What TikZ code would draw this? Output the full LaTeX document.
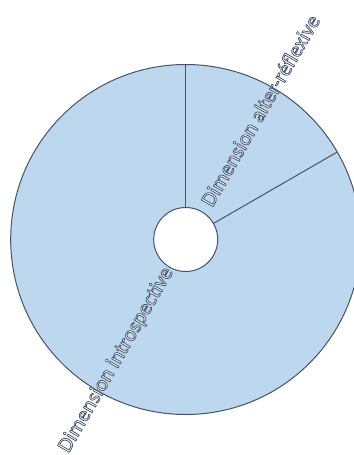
\documentclass[tikz,border=0pt]{standalone}
\usepackage{fontspec}
\setmainfont{Carlito}
\definecolor{discbleu}{HTML}{BDD7EE}
\definecolor{traitgris}{HTML}{44546A}
% texte blanc cerné (mode de rendu 2 : remplir et tracer)
\newcommand\cerne[1]{\special{pdf:code q 2 Tr 0.55 w 0.267 0.329 0.416 RG}#1\special{pdf:code Q}}
\begin{document}
\begin{tikzpicture}[x=0.75pt, y=0.75pt, line cap=round, line join=round,
    dimtext/.style={text=white, font=\fontsize{16}{18}\selectfont, inner sep=0pt}]
  \useasboundingbox (-185.7,-215.5) rectangle (168.3,239.5);
  \clip (-185.7,-215.5) rectangle (168.3,239.5);
  % disque et moyeu
  \coordinate (O) at (0,0);
  \coordinate (Rtop) at (90:175);
  \coordinate (Rside) at (30:175);
  \fill[discbleu] (O) circle (175);
  \draw[traitgris, line width=0.75pt] (O) circle (175);
  \node[circle, draw=traitgris, fill=white, line width=0.75pt,
    minimum size=48pt, inner sep=0pt] (hub) at (O) {};
  \draw[traitgris, line width=0.75pt] (hub.90) -- (Rtop);
  \draw[traitgris, line width=0.75pt] (hub.30) -- (Rside);
  % libellés
  \node[dimtext, rotate=60] (alter) at (60:149) {\cerne{Dimension alter-réflexive}};
  \node[dimtext, rotate=60] (intro) at (240:139) {\cerne{Dimension introspective}};
\end{tikzpicture}
\end{document}
